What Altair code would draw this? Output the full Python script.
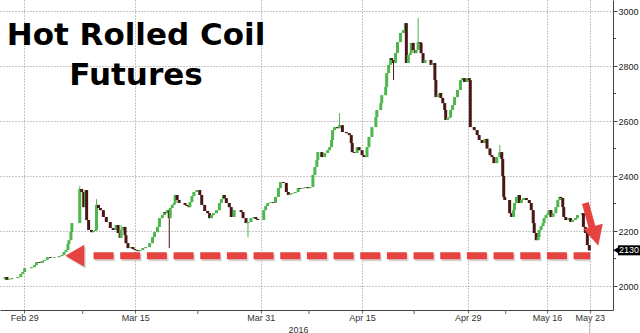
import altair as alt
import pandas as pd

# ---- price path (session position t, bar close) ----
t_a = [0, 2, 4, 7, 10, 13, 16, 18, 20, 23, 27, 30, 32, 35, 38, 40, 43, 46, 50, 53, 55, 58, 60, 62, 64, 65, 67, 68, 70, 73, 75, 76, 78, 80, 82, 83, 85, 88, 90, 92, 93, 95, 97, 100, 103, 107]
c_a = [2033, 2022, 2025, 2029, 2029, 2033, 2044, 2051, 2065, 2065, 2069, 2076, 2087, 2084, 2091, 2095, 2105, 2102, 2105, 2105, 2109, 2113, 2124, 2131, 2153, 2167, 2196, 2229, 2229, 2229, 2229, 2353, 2342, 2287, 2349, 2240, 2204, 2196, 2200, 2204, 2295, 2284, 2276, 2251, 2233, 2211]

t_b = [110, 113, 115, 117, 118, 120, 122, 123, 125, 128, 130, 132, 135, 137, 140, 143, 147, 150, 152, 155, 157, 160, 162, 163, 165, 167, 168, 170, 172, 173, 175, 177, 180, 183, 185, 187, 188, 190, 192, 195, 198, 200, 203, 206, 208, 210, 212]
c_b = [2204, 2222, 2193, 2175, 2204, 2215, 2185, 2156, 2138, 2142, 2135, 2131, 2127, 2131, 2138, 2142, 2156, 2178, 2196, 2215, 2247, 2258, 2269, 2265, 2276, 2247, 2284, 2295, 2302, 2331, 2313, 2302, 2302, 2295, 2291, 2287, 2305, 2327, 2342, 2349, 2331, 2295, 2273, 2265, 2247, 2258, 2265]

t_c = [215, 218, 220, 222, 223, 225, 228, 230, 233, 235, 237, 240, 242, 245, 247, 250, 253, 255, 257, 260, 263, 265, 267, 270, 273, 275, 278, 280, 283, 286, 288, 290, 292, 295, 298, 300, 302, 305, 308, 310]
c_c = [2276, 2302, 2316, 2331, 2320, 2302, 2287, 2251, 2276, 2276, 2276, 2269, 2247, 2229, 2233, 2247, 2251, 2244, 2240, 2240, 2276, 2291, 2302, 2305, 2302, 2324, 2356, 2378, 2375, 2342, 2331, 2335, 2338, 2342, 2356, 2353, 2356, 2360, 2356, 2360]

t_d = [313, 315, 317, 318, 322, 325, 328, 330, 332, 333, 335, 338, 340, 343, 347, 350, 352, 353, 355, 358, 360, 363, 365, 368, 370, 373, 377, 378, 382, 383, 387, 388, 390, 392, 393, 395, 397, 399, 402, 405, 407]
c_d = [2404, 2433, 2458, 2487, 2469, 2484, 2494, 2505, 2531, 2567, 2578, 2574, 2585, 2560, 2556, 2549, 2520, 2487, 2484, 2505, 2494, 2476, 2469, 2505, 2542, 2578, 2614, 2640, 2665, 2694, 2724, 2774, 2804, 2829, 2822, 2811, 2847, 2887, 2920, 2931, 2956]

t_e = [408, 410, 412, 413, 415, 417, 418, 420, 422, 423, 425, 427, 430, 433, 435, 437, 438, 440, 442, 443, 445, 447, 448, 450, 452, 453, 455, 457, 460, 463, 465, 467, 468, 470, 472, 473, 475, 477, 480, 482, 485, 488, 490, 493, 495, 497, 500, 503, 505, 506, 507]
c_e = [2811, 2840, 2847, 2884, 2858, 2847, 2858, 2887, 2884, 2847, 2811, 2822, 2822, 2804, 2811, 2749, 2687, 2694, 2702, 2684, 2665, 2640, 2604, 2611, 2614, 2640, 2658, 2687, 2713, 2749, 2756, 2742, 2742, 2756, 2749, 2578, 2578, 2567, 2549, 2531, 2520, 2535, 2500, 2476, 2469, 2447, 2469, 2487, 2462, 2400, 2324]

t_f = [508, 510, 512, 513, 515, 517, 518, 520, 522, 523, 525, 527, 530, 533, 535, 537, 538, 540, 542, 543, 545, 547, 548, 550, 552, 553, 555, 557, 560, 562, 564, 565, 567, 568, 570, 573, 575, 577, 580, 582, 585, 587, 588, 590, 592, 594]
c_f = [2313, 2313, 2313, 2265, 2251, 2276, 2302, 2324, 2331, 2302, 2313, 2320, 2313, 2302, 2276, 2229, 2193, 2167, 2178, 2204, 2218, 2229, 2247, 2258, 2265, 2276, 2251, 2265, 2287, 2313, 2324, 2320, 2287, 2251, 2240, 2247, 2233, 2240, 2247, 2258, 2258, 2265, 2215, 2193, 2149, 2130]

first_open = 2025

# long wicks (session position, extreme price)
wick_t = [76, 93, 118, 167, 247, 340, 395, 420, 503]
wick_v = [2364, 2316, 2222, 2138, 2178, 2629, 2749, 2974, 2513]

# axis ticks
major_t = [19.5, 132.5, 260, 363, 470.5, 551, 594.5]
major_lbl = ["Feb 29", "Mar 15", "Mar 31", "Apr 15", "Apr 29", "May 16", "May 23"]
minor_t = [79, 196, 309, 416, 509]
y_major = [2000, 2200, 2400, 2600, 2800, 3000]
y_minor = [2100, 2300, 2500, 2700, 2900]

title_lines = ["Hot Rolled Coil", "Futures"]
support_level = 2110

RED = "#e5433f"
UP = "#4cb84c"
DOWN = "#4a1616"

# ---- build table ----
t_all = t_a + t_b + t_c + t_d + t_e + t_f
c_all = c_a + c_b + c_c + c_d + c_e + c_f
assert len(t_all) == len(c_all)
o_all = [first_open] + c_all[:-1]
wick = dict(zip(wick_t, wick_v))
rows = []
for t, o, c in zip(t_all, o_all, c_all):
    hi, lo = max(o, c), min(o, c)
    if t in wick:
        hi = max(hi, wick[t])
        lo = min(lo, wick[t])
    rows.append({"t": t, "open": o, "close": c, "high": hi, "low": lo,
                 "dir": "up" if c >= o else "down"})
df = pd.DataFrame(rows)

xdom = [0, 613]
ydom = [1913, 3040]

label_expr = " : ".join(
    f"datum.value == {v} ? '{l}'" for v, l in zip(major_t, major_lbl)
) + " : ''"

FONT = "Liberation Sans"

x_axis = alt.Axis(values=major_t, labelExpr=label_expr, grid=True, gridDash=[1, 2],
                  gridColor="#8f8f8f", domainColor="#444", tickColor="#666", tickSize=3,
                  labelFontSize=9, labelColor="#333", labelFont=FONT, labelPadding=0,
                  title="2016", titleFontSize=9, titleFontWeight="normal", titleColor="#333",
                  titleFont=FONT, titleX=298, titleY=22, titleBaseline="alphabetic")
y_axis = alt.Axis(orient="right", values=y_major, format="d", grid=True, gridDash=[1, 2],
                  gridColor="#8f8f8f", domainColor="#444", tickColor="#444", tickSize=4,
                  labelFontSize=9, labelColor="#222", labelFont=FONT, labelPadding=1,
                  title=None)

xs = alt.Scale(domain=xdom, nice=False, zero=False)
ys = alt.Scale(domain=ydom, nice=False, zero=False)


def X(field):
    return alt.X(field, type="quantitative", scale=xs, axis=x_axis)


def Y(field):
    return alt.Y(field, type="quantitative", scale=ys, axis=y_axis)


col = alt.Color("dir:N", scale=alt.Scale(domain=["up", "down"], range=[UP, DOWN]), legend=None)

base = alt.Chart(df)
wicks = base.mark_rule(strokeWidth=1).encode(x=X("t"), y=Y("low"), y2="high:Q", color=col)
bodies = base.mark_bar(size=3).encode(x=X("t"), y=Y("open"), y2="close:Q", color=col)

# minor ticks
xminor = alt.Chart(pd.DataFrame({"t": minor_t})).mark_rule(color="#666").encode(
    x=X("t"), y=alt.value(310), y2=alt.value(314))
yminor = alt.Chart(pd.DataFrame({"v": y_minor})).mark_rule(color="#444").encode(
    y=Y("v"), x=alt.value(613), x2=alt.value(616))
now_line = alt.Chart(pd.DataFrame({"t": [major_t[-1]]})).mark_rule(color="#aaa").encode(
    x=X("t"), y=alt.value(322), y2=alt.value(333))

# red dashed support arrow
dash_df = pd.DataFrame({"t1": [90], "t2": [595], "v": [support_level]})
dash_shadow = alt.Chart(dash_df).mark_rule(strokeWidth=7, strokeDash=[20, 6.67], strokeCap="butt",
                                          color="#b8b8b8", opacity=0.6, xOffset=1.5, yOffset=2).encode(
    x=X("t1"), x2="t2:Q", y=Y("v"))
dash = alt.Chart(dash_df).mark_rule(strokeWidth=7, strokeDash=[20, 6.67], strokeCap="butt",
                                    color=RED).encode(x=X("t1"), x2="t2:Q", y=Y("v"))
head_df = pd.DataFrame({"t": [71], "v": [support_level]})
head_shadow = alt.Chart(head_df).mark_point(shape="triangle-left", size=480, filled=True,
                                            color="#b8b8b8", opacity=0.6, xOffset=1.5, yOffset=2).encode(
    x=X("t"), y=Y("v"))
head = alt.Chart(head_df).mark_point(shape="triangle-left", size=480, filled=True,
                                     color=RED, opacity=1).encode(x=X("t"), y=Y("v"))

# red diagonal arrow
shaft_df = pd.DataFrame({"t1": [590], "t2": [597], "v1": [2302], "v2": [2211]})
shaft = alt.Chart(shaft_df).mark_rule(strokeWidth=7, strokeCap="butt", color=RED).encode(
    x=X("t1"), x2="t2:Q", y=Y("v1"), y2="v2:Q")
dhead_df = pd.DataFrame({"t": [600.5], "v": [2182]})
dhead = alt.Chart(dhead_df).mark_point(shape="M-1,-1L1,-1L0,1Z", size=400, angle=345,
                                       filled=True, color=RED, opacity=1).encode(
    x=X("t"), y=Y("v"))

# last price tag
last_df = pd.DataFrame({"v": [c_all[-1]], "txt": [str(c_all[-1])]})
tag = alt.Chart(last_df).mark_rule(strokeWidth=10, strokeCap="butt", color="#000").encode(
    x=alt.value(618), x2=alt.value(640), y=Y("v"))
tag_tip = alt.Chart(last_df).mark_point(shape="triangle-left", size=80, filled=True,
                                        color="#000", opacity=1).encode(
    x=alt.value(617), y=Y("v"))
tag_txt = alt.Chart(last_df).mark_text(color="#fff", fontSize=9, font=FONT,
                                       align="center", baseline="middle").encode(
    x=alt.value(629), y=Y("v"), text="txt:N")

# title
title_df = pd.DataFrame({"txt": ["\n".join(title_lines)]})
title = alt.Chart(title_df).mark_text(font="DejaVu Sans", fontWeight="bold", fontSize=31,
                                      color="#000", align="center", baseline="alphabetic",
                                      lineBreak="\n", lineHeight=40).encode(
    x=alt.value(136), y=alt.value(45), text="txt:N")

chart = alt.layer(
    wicks, bodies, xminor, yminor, now_line,
    dash_shadow, head_shadow, dash, head, shaft, dhead,
    tag, tag_tip, tag_txt, title
).properties(
    width=613, height=310,
    autosize="none",
    padding={"left": 0, "top": 0, "right": 27, "bottom": 23},
    background="#ffffff",
).configure_view(stroke=None)

chart.save("out.html", embed_options={"renderer": "svg", "actions": False})
